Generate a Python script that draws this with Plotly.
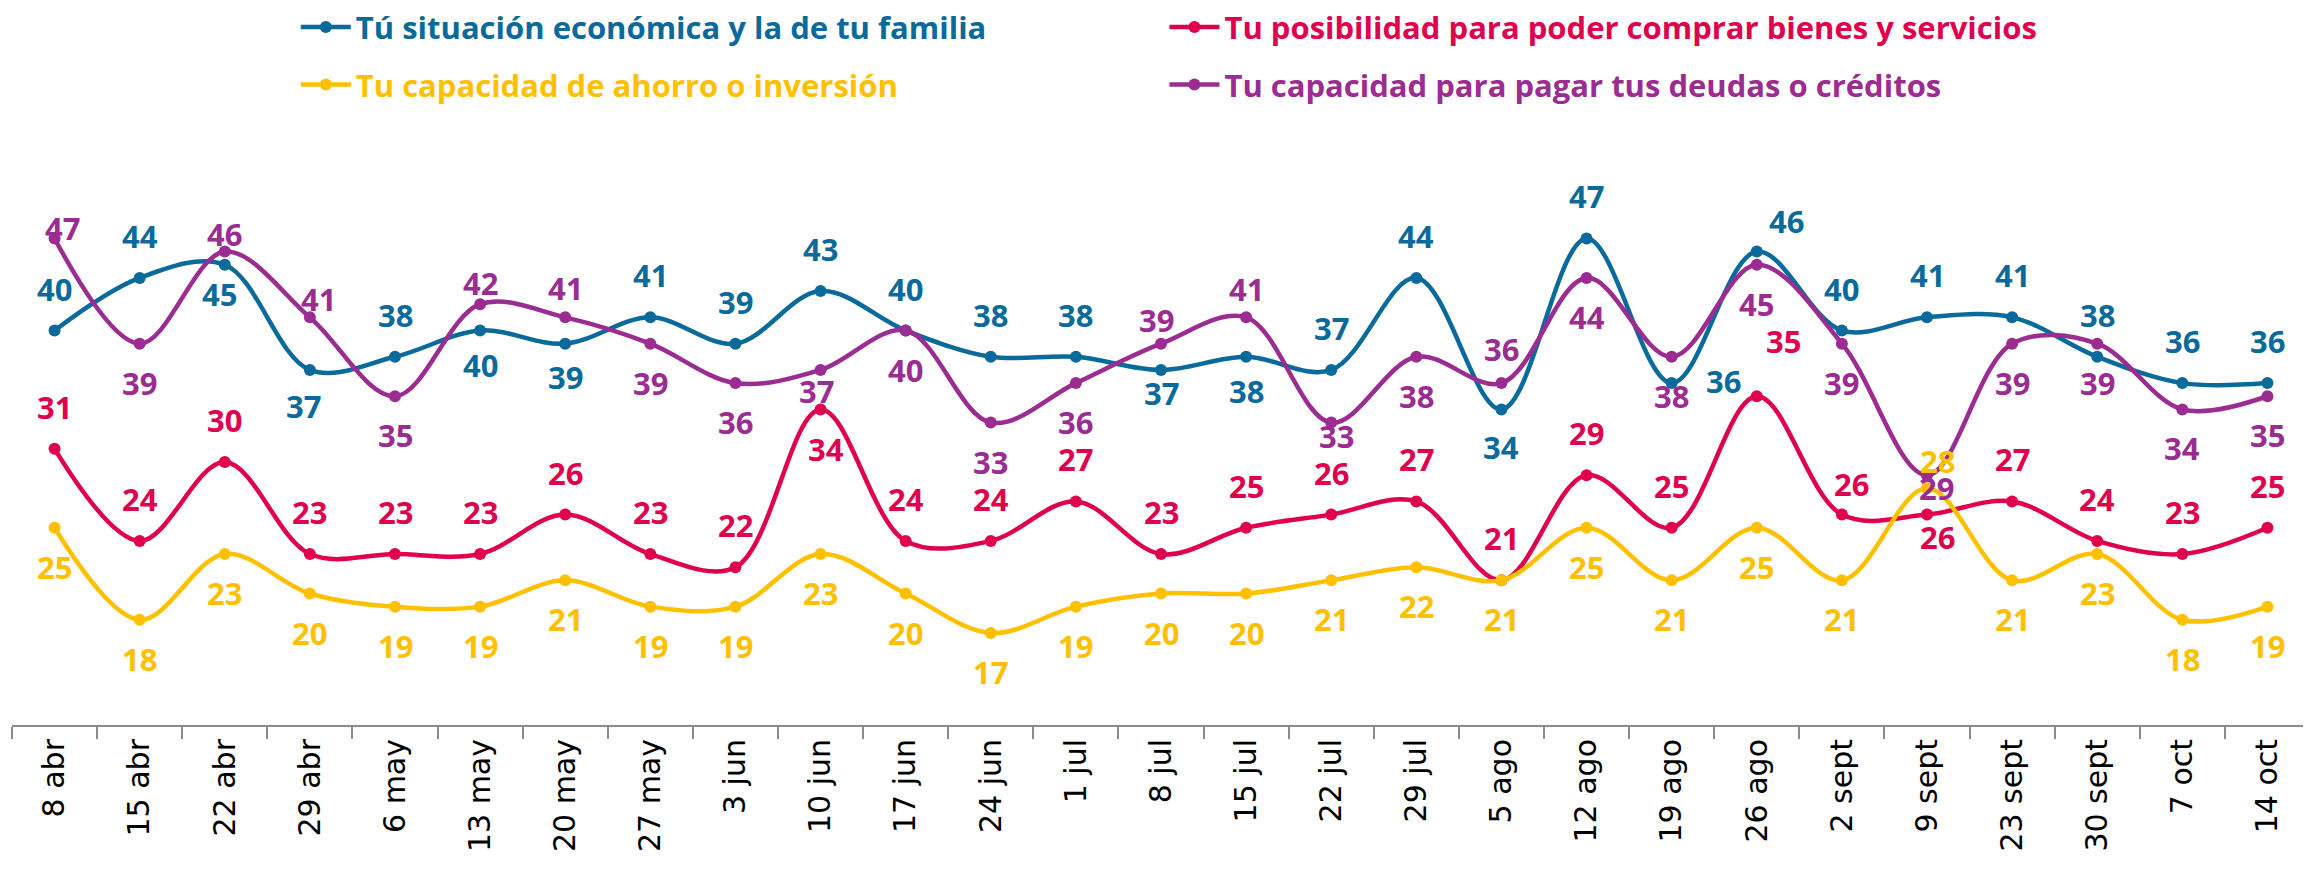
import plotly.graph_objects as go

categories = ["8 abr", "15 abr", "22 abr", "29 abr", "6 may", "13 may", "20 may", "27 may",
              "3 jun", "10 jun", "17 jun", "24 jun", "1 jul", "8 jul", "15 jul", "22 jul",
              "29 jul", "5 ago", "12 ago", "19 ago", "26 ago", "2 sept", "9 sept", "23 sept",
              "30 sept", "7 oct", "14 oct"]

situacion = [40, 44, 45, 37, 38, 40, 39, 41, 39, 43, 40, 38, 38, 37, 38, 37, 44, 34, 47, 36,
             46, 40, 41, 41, 38, 36, 36]
posibilidad = [31, 24, 30, 23, 23, 23, 26, 23, 22, 34, 24, 24, 27, 23, 25, 26, 27, 21, 29, 25,
               35, 26, 26, 27, 24, 23, 25]
ahorro = [25, 18, 23, 20, 19, 19, 21, 19, 19, 23, 20, 17, 19, 20, 20, 21, 22, 21, 25, 21,
          25, 21, 28, 21, 23, 18, 19]
deudas = [47, 39, 46, 41, 35, 42, 41, 39, 36, 37, 40, 33, 36, 39, 41, 33, 38, 36, 44, 38,
          45, 39, 29, 39, 39, 34, 35]

names = ["Tú situación económica y la de tu familia",
         "Tu posibilidad para poder comprar bienes y servicios",
         "Tu capacidad de ahorro o inversión",
         "Tu capacidad para pagar tus deudas o créditos"]

# ---- styling (kept separate from data) ----
colors = ["#0B6A9C", "#E1004E", "#FFC000", "#9B2C92"]
legend_ids = ["legend", "legend2", "legend3", "legend4"]
legend_pos = [(0.1235, 0.9775), (0.5015, 0.9775), (0.1235, 0.911), (0.5015, 0.911)]

# label placement: 'a' above, 'b' below; overrides: index -> (dx, dy) in screen px (dy>0 = down)
default_place = ["a", "a", "b", "b"]
overrides = [
    {2: (-5, 31), 3: (-6, 38), 5: (0, 36), 6: (0, 35), 13: (0, 25), 14: (0, 36), 17: (0, 40),
     19: (52, 0), 20: (30, -29)},
    {9: (5, 42), 20: (27, -53), 21: (10, -29), 22: (10, 24)},
    {22: (10, -25)},
    {0: (8, -8), 2: (0, -16), 3: (9, -16), 5: (0, -19), 6: (0, -27), 9: (-4, 23),
     13: (-5, -22), 14: (0, -26), 15: (5, 15), 17: (0, -32), 22: (9, 15)},
]
place_offset = {"a": (0, -40), "b": (0, 41)}

series = [situacion, posibilidad, ahorro, deudas]

fig = go.Figure()
annotations = []
for k, (vals, name, col) in enumerate(zip(series, names, colors)):
    fig.add_trace(go.Scatter(
        x=categories, y=vals, mode="lines+markers",
        name=f"<span style='color:{col}'>{name}</span>",
        line=dict(color=col, width=4.5, shape="spline", smoothing=1),
        marker=dict(color=col, size=12),
        legend=legend_ids[k],
        hoverinfo="skip",
    ))
    for i, v in enumerate(vals):
        dx, dy = overrides[k].get(i, place_offset[default_place[k]])
        annotations.append(dict(
            x=categories[i], y=v, xref="x", yref="y", text=str(v), showarrow=False,
            xanchor="center", yanchor="middle", xshift=dx, yshift=-dy + 2,
            font=dict(family="Open Sans", size=31, color=col, weight="bold"),
        ))

legends = {}
for k, lid in enumerate(legend_ids):
    lx, ly = legend_pos[k]
    legends[lid] = dict(
        orientation="h", xanchor="left", yanchor="middle", x=lx, y=ly, yref="container",
        font=dict(family="Open Sans", size=31, weight="bold"),
        itemwidth=50, bgcolor="rgba(0,0,0,0)", itemclick=False, itemdoubleclick=False,
    )

# the page body has an 8px default margin, so the figure is sized to fit the window
fig.update_layout(
    width=2303, height=863, autosize=False,
    margin=dict(l=4, r=1, t=191, b=146, pad=0),
    paper_bgcolor="white", plot_bgcolor="white",
    showlegend=True,
    annotations=annotations,
    xaxis=dict(
        type="category", range=[-0.5, 26.5], showline=True, linecolor="#8C8C8C", linewidth=2,
        ticks="outside", tickson="boundaries", ticklen=12, tickcolor="#8C8C8C", tickwidth=1.5,
        tickangle=-90, tickfont=dict(family="DejaVu Sans", size=30, color="black"),
        showgrid=False, zeroline=False, fixedrange=True,
    ),
    yaxis=dict(range=[10, 50], visible=False, showgrid=False, zeroline=False, fixedrange=True),
    **legends,
)

fig.write_html("out.html")
